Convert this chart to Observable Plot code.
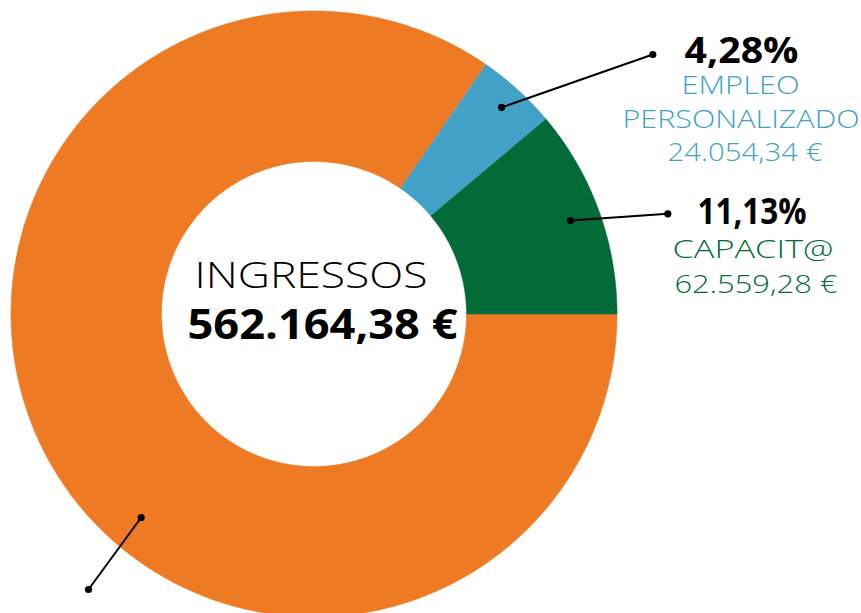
<!DOCTYPE html>
<html><head><meta charset="utf-8">
<script src="https://cdn.jsdelivr.net/npm/d3@7"></script>
<script src="https://cdn.jsdelivr.net/npm/@observablehq/plot@0.6"></script>
<style>html,body{margin:0;padding:0;background:#fff;overflow:hidden}</style>
</head><body><div id="chart"></div>
<script>
// ---- data ----
const categories = ["RESTO", "EMPLEO PERSONALIZADO", "CAPACIT@"];
const values = [475550.76, 24054.34, 62559.28];
const percents = ["84,59%", "4,28%", "11,13%"];
const nameLines = [[], ["EMPLEO", "PERSONALIZADO"], ["CAPACIT@"]];
const amounts = ["475.550,76 €", "24.054,34 €", "62.559,28 €"];
const colors = ["#EE7A23", "#42A1C6", "#036B37"];
const totalTitle = "INGRESSOS";
const totalAmount = "562.164,38 €";

// ---- layout ----
const W = 861, H = 613;
const cx = 313.5, cy = 313.5, rOuter = 303, rInner = 152.5;
const FONT = "'Open Sans', 'Noto Sans', sans-serif";
// leader anchors: fraction of slice angle, radius; end point offsets (relative to centre)
const leaderAnchor = [{f: 0.428, r: 267}, {f: 0.5, r: 279}, {f: 0.5, r: 273}];
const leaderEnd = [[-225.5, 275.5], [338.8, -259.5], [353.8, -100.2]];
// label blocks: centre x, baselines (page px)
const labelLayout = [
  null,
  {pct: [741, 62], lines: [[740, 93], [740.5, 127]], amt: [744.5, 160]},
  {pct: [751.5, 223], lines: [[752.5, 257]], amt: [755.5, 292]}
];
const widths = {
  "4,28%": 114, "EMPLEO": 118, "PERSONALIZADO": 237, "24.054,34 €": 155,
  "11,13%": 109, "CAPACIT@": 161, "62.559,28 €": 163,
  "INGRESSOS": 233, "562.164,38 €": 270
};

const pie = d3.pie().sort(null).startAngle(Math.PI / 2).endAngle(Math.PI / 2 + 2 * Math.PI)(values);
const polar = (r, a) => [r * Math.sin(a), -r * Math.cos(a)];

const slicePts = [];
pie.forEach((p, i) => {
  const n = Math.max(12, Math.ceil((p.endAngle - p.startAngle) * 200));
  for (let k = 0; k <= n; k++) {
    const a = p.startAngle + (p.endAngle - p.startAngle) * k / n;
    const [x, y] = polar(rOuter, a);
    slicePts.push({cat: categories[i], x, y});
  }
  for (let k = n; k >= 0; k--) {
    const a = p.startAngle + (p.endAngle - p.startAngle) * k / n;
    const [x, y] = polar(rInner, a);
    slicePts.push({cat: categories[i], x, y});
  }
});

const leaders = pie.map((p, i) => {
  const a = p.startAngle + (p.endAngle - p.startAngle) * leaderAnchor[i].f;
  const [x1, y1] = polar(leaderAnchor[i].r, a);
  return {x1, y1, x2: leaderEnd[i][0], y2: leaderEnd[i][1]};
});
const dots = leaders.flatMap(d => [{x: d.x1, y: d.y1}, {x: d.x2, y: d.y2}]);

const textMarks = [];
function addText(str, px, py, opts) {
  textMarks.push(Plot.text([str], {
    x: () => px - cx, y: () => py - cy, text: d => d,
    textAnchor: "middle", lineAnchor: "bottom", fontFamily: FONT, ...opts
  }));
}
labelLayout.forEach((L, i) => {
  if (!L) return;
  addText(percents[i], L.pct[0], L.pct[1], {fontSize: 36, fontWeight: 700, fill: "#000"});
  nameLines[i].forEach((s, j) => addText(s, L.lines[j][0], L.lines[j][1], {fontSize: 25, fontWeight: 300, fill: colors[i]}));
  addText(amounts[i], L.amt[0], L.amt[1], {fontSize: 25, fontWeight: 300, fill: colors[i]});
});
addText(totalTitle, 310.5, 287, {fontSize: 37, fontWeight: 300, fill: "#000"});
addText(totalAmount, 322, 338.5, {fontSize: 42, fontWeight: 700, fill: "#000"});

const chart = Plot.plot({
  width: W, height: H, margin: 0,
  x: {domain: [-cx, W - cx], range: [0, W], axis: null},
  y: {domain: [-cy, H - cy], range: [0, H], axis: null},
  color: {domain: categories, range: colors},
  style: {background: "#fff"},
  marks: [
    Plot.line(slicePts, {x: "x", y: "y", z: "cat", fill: "cat", stroke: "cat", strokeWidth: 0.6, curve: "linear"}),
    Plot.link(leaders, {x1: "x1", y1: "y1", x2: "x2", y2: "y2", stroke: "#000", strokeWidth: 2}),
    Plot.dot(dots, {x: "x", y: "y", r: 3.6, fill: "#000", stroke: "none"}),
    ...textMarks
  ]
});
chart.querySelectorAll("text").forEach(t => {
  const w = widths[t.textContent.trim()];
  if (w) { t.setAttribute("textLength", w); t.setAttribute("lengthAdjust", "spacingAndGlyphs"); }
});
document.getElementById("chart").appendChild(chart);
</script>
</body></html>
